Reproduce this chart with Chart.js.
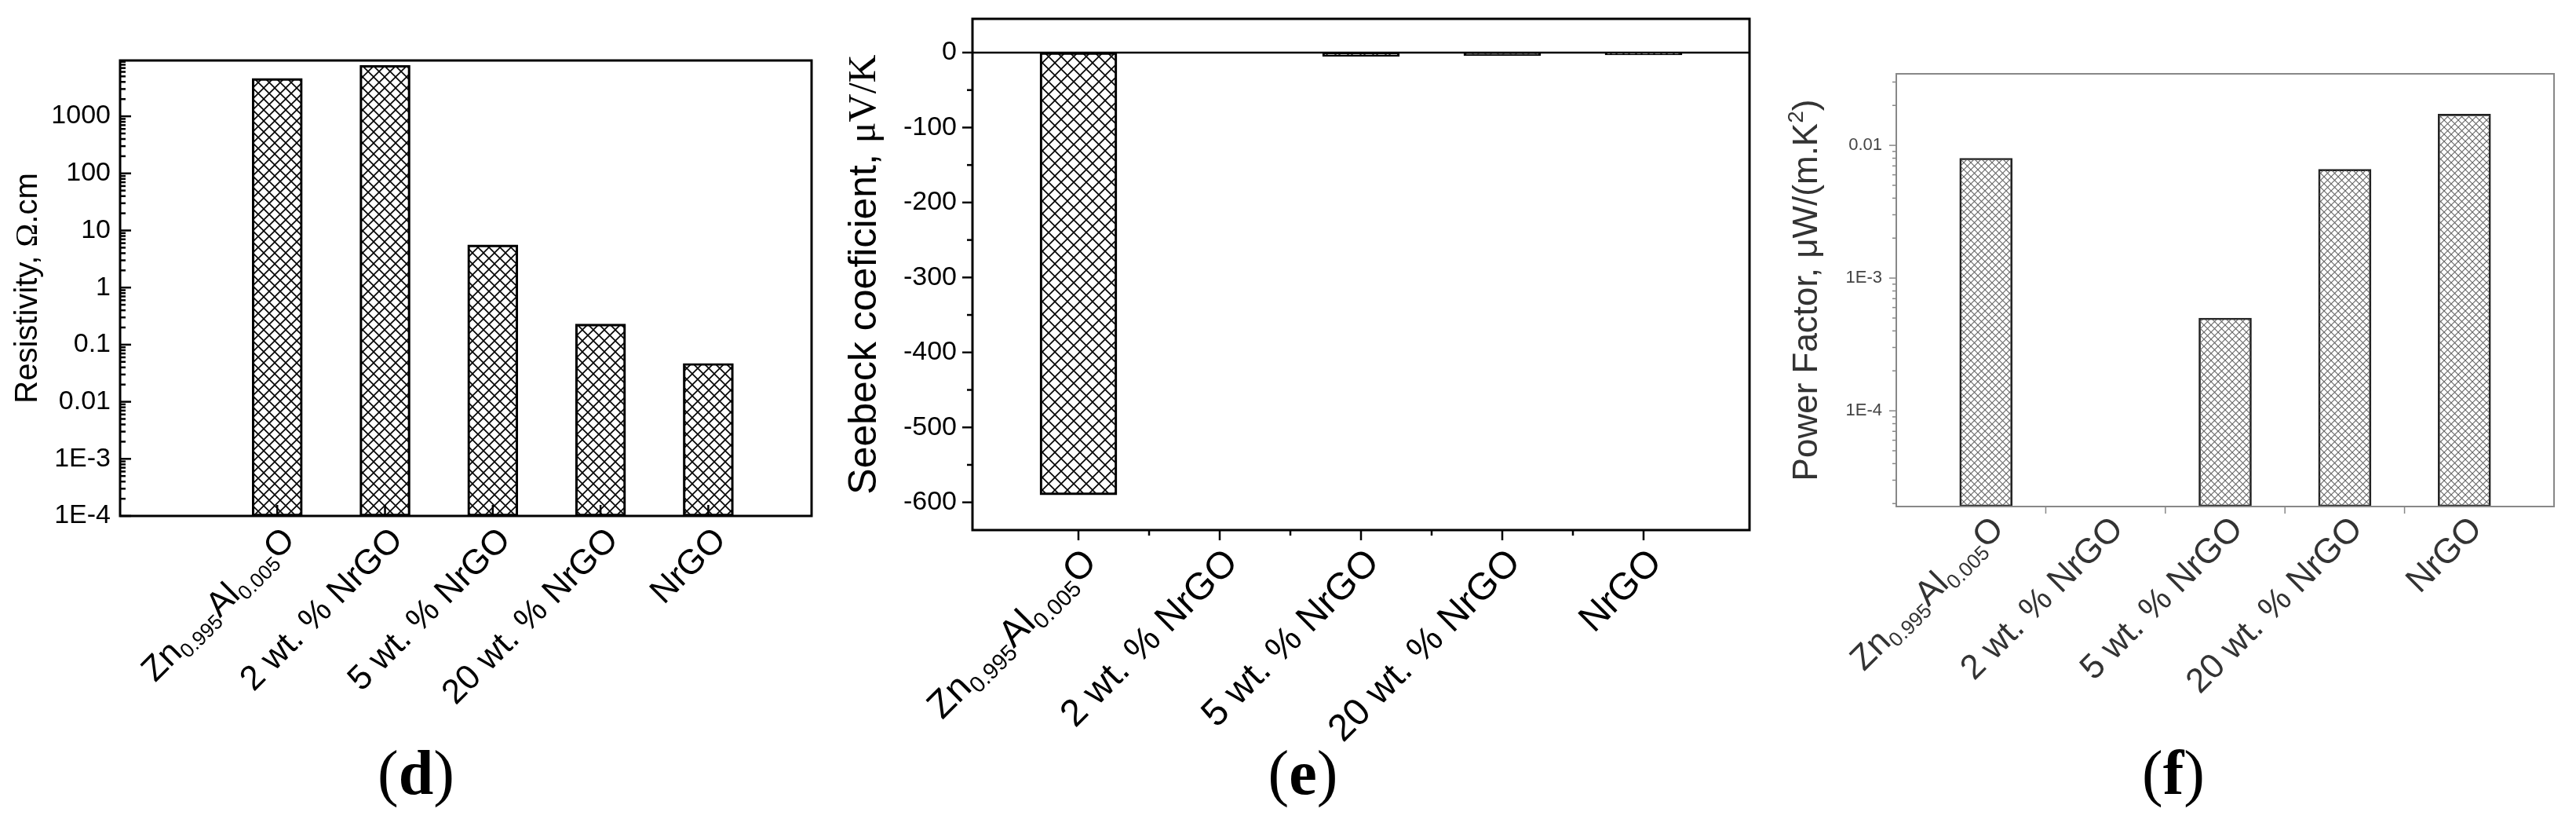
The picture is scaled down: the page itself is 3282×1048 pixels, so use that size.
<!DOCTYPE html>
<html><head><meta charset="utf-8">
<script src="https://cdn.jsdelivr.net/npm/chart.js@4/dist/chart.umd.min.js"></script>
<style>body{margin:0;background:#fff;width:3282px;height:1048px;overflow:hidden;position:relative}canvas{position:absolute;left:0;top:0}</style>
</head><body>
<canvas id="cd" width="3282" height="1048"></canvas>
<canvas id="ce" width="3282" height="1048"></canvas>
<canvas id="cf" width="3282" height="1048"></canvas>
<script>
// ---- data ----
const categories = ['Zn_0.995_Al_0.005_O', '2 wt. % NrGO', '5 wt. % NrGO', '20 wt. % NrGO', 'NrGO'];
const resistivity = [4600, 7800, 5.6, 0.23, 0.047];
const seebeck = [-590, null, -5, -4, -3];
const powerFactor = [0.0080, null, 0.00050, 0.0066, 0.0172];
const resistTicks = [1e-4, 1e-3, 0.01, 0.1, 1, 10, 100, 1000];
const resistTickLabels = ['1E-4', '1E-3', '0.01', '0.1', '1', '10', '100', '1000'];
const seebeckTicks = [-600, -500, -400, -300, -200, -100, 0];
const seebeckTickLabels = ['-600', '-500', '-400', '-300', '-200', '-100', '0'];
const pfTicks = [1e-4, 1e-3, 0.01];
const pfTickLabels = ['1E-4', '1E-3', '0.01'];

const SANS = "'Liberation Sans', Arial, sans-serif";
const SERIF = "'Liberation Serif', 'Times New Roman', serif";

function hatch(sp, color, lw) {
  const c = document.createElement('canvas'); c.width = sp; c.height = sp;
  const g = c.getContext('2d'); g.strokeStyle = color; g.lineWidth = lw;
  g.beginPath();
  g.moveTo(-1, -1); g.lineTo(sp + 1, sp + 1);
  g.moveTo(sp + 1, -1); g.lineTo(-1, sp + 1);
  g.stroke();
  return g.createPattern(c, 'repeat');
}
const pts = arr => arr.map((v, i) => ({x: i, y: v}));

function richLabel(ctx, text, x, y, size, color) {
  const parts = text.split('_');
  const segs = parts.map((p, i) => ({t: p, sub: i % 2 === 1}));
  let total = 0;
  segs.forEach(s => { ctx.font = Math.round(s.sub ? size * 0.6 : size) + 'px ' + SANS; s.w = ctx.measureText(s.t).width; total += s.w; });
  ctx.save(); ctx.translate(x, y); ctx.rotate(-Math.PI / 4);
  ctx.fillStyle = color; ctx.textAlign = 'left'; ctx.textBaseline = 'middle';
  let cx = -total;
  segs.forEach(s => { ctx.font = Math.round(s.sub ? size * 0.6 : size) + 'px ' + SANS; ctx.fillText(s.t, cx, s.sub ? size * 0.3 : 0); cx += s.w; });
  ctx.restore();
}

function decor(cfg) {
  return {
    id: 'decor',
    afterDraw(chart) {
      const ctx = chart.ctx, a = chart.chartArea, xs = chart.scales.x, ys = chart.scales.y;
      ctx.save();
      ctx.strokeStyle = cfg.axisColor; ctx.lineWidth = cfg.frameW;
      ctx.strokeRect(a.left, a.top, a.right - a.left, a.bottom - a.top);
      if (cfg.zeroLine) { const y0 = ys.getPixelForValue(0); ctx.lineWidth = 2.5; ctx.beginPath(); ctx.moveTo(a.left, y0); ctx.lineTo(a.right, y0); ctx.stroke(); }
      ctx.lineWidth = cfg.tickW;
      const tick = (x1, y1, x2, y2) => { ctx.beginPath(); ctx.moveTo(x1, y1); ctx.lineTo(x2, y2); ctx.stroke(); };
      const dir = cfg.ticksIn ? 1 : -1;
      cfg.yMajor.forEach(v => { const y = ys.getPixelForValue(v); tick(a.left, y, a.left + dir * cfg.majorLen, y); });
      cfg.yMinor.forEach(v => { const y = ys.getPixelForValue(v); if (y > a.top && y < a.bottom) tick(a.left, y, a.left + dir * cfg.minorLen, y); });
      cfg.xMajor.forEach(v => { const x = xs.getPixelForValue(v); tick(x, a.bottom, x, a.bottom - dir * cfg.majorLen); });
      cfg.xMinor.forEach(v => { const x = xs.getPixelForValue(v); tick(x, a.bottom, x, a.bottom - dir * cfg.minorLen); });
      // y tick labels
      ctx.fillStyle = cfg.tickColor; ctx.font = cfg.tickSize + 'px ' + SANS;
      ctx.textAlign = 'right'; ctx.textBaseline = 'middle';
      cfg.yMajor.forEach((v, i) => { ctx.fillText(cfg.yLabels[i], a.left - cfg.tickGap, ys.getPixelForValue(v)); });
      // x labels
      categories.forEach((c, i) => {
        const x = xs.getPixelForValue(i);
        richLabel(ctx, c, x + cfg.lblDx, a.bottom + cfg.lblDy, cfg.lblSize, cfg.textColor);
      });
      // y title
      ctx.save(); ctx.translate(cfg.titleX, (a.top + a.bottom) / 2); ctx.rotate(-Math.PI / 2);
      ctx.fillStyle = cfg.textColor; ctx.textBaseline = 'middle'; ctx.textAlign = 'left';
      let tw = 0; cfg.title.forEach(s => { ctx.font = s[1]; tw += ctx.measureText(s[0]).width; });
      let tx = -tw / 2;
      cfg.title.forEach(s => { ctx.font = s[1]; ctx.fillText(s[0], tx, s[2] || 0); tx += ctx.measureText(s[0]).width; });
      ctx.restore();
      // panel letter
      ctx.fillStyle = '#000'; ctx.textBaseline = 'middle'; ctx.textAlign = 'left';
      const reg = '80px ' + SERIF, bold = 'bold 80px ' + SERIF;
      ctx.font = reg; const wl = ctx.measureText('(').width, wr = ctx.measureText(')').width;
      ctx.font = bold; const wm = ctx.measureText(cfg.panel).width;
      const sx = cfg.panelX - (wl + wm + wr) / 2;
      ctx.font = reg; ctx.fillText('(', sx, 990);
      ctx.font = bold; ctx.fillText(cfg.panel, sx + wl, 990);
      ctx.font = reg; ctx.fillText(')', sx + wl + wm, 990);
      ctx.restore();
    }
  };
}

function makeChart(id, box, data, ycfg, bar, dcfg) {
  return new Chart(document.getElementById(id), {
    type: 'bar',
    data: { datasets: [{ data: pts(data), backgroundColor: bar.fill, borderColor: bar.border, borderWidth: bar.bw, barThickness: bar.thick, borderSkipped: false }] },
    options: {
      responsive: false, animation: false, devicePixelRatio: 1,
      layout: { padding: { left: box.l, top: box.t, right: 3282 - box.r, bottom: 1048 - box.b } },
      plugins: { legend: { display: false }, tooltip: { enabled: false } },
      scales: {
        x: { type: 'linear', min: box.xmin, max: box.xmax, grid: { display: false }, border: { display: false }, ticks: { display: false }, afterFit: s => { s.height = 0; } },
        y: Object.assign({ grid: { display: false, drawTicks: false }, border: { display: false }, ticks: { display: false }, afterFit: s => { s.width = 0; } }, ycfg)
      }
    },
    plugins: [decor(dcfg)]
  });
}

const logMinor = (lo, hi) => { const r = []; for (let k = lo; k <= hi; k++) for (let m = 2; m <= 9; m++) r.push(m * Math.pow(10, k)); return r; };

// (d)
makeChart('cd', {l: 153, r: 1034, t: 77, b: 657, xmin: -1, xmax: 4.5}, resistivity,
  { type: 'logarithmic', min: 1e-4, max: 9500 },
  { fill: hatch(14, '#000', 1.6), border: '#000', bw: 2.5, thick: 64 },
  { axisColor: '#000', textColor: '#000', tickColor: '#000', tickSize: 34, tickGap: 12, yLabels: resistTickLabels,
    frameW: 3, tickW: 2.5, ticksIn: true, majorLen: 14, minorLen: 7,
    yMajor: resistTicks, yMinor: logMinor(-4, 3), xMajor: [0, 1, 2, 3, 4], xMinor: [],
    lblDx: 16, lblDy: 24, lblSize: 44, titleX: 36,
    title: [['Resistivity, ', '40px ' + SANS], ['Ω', '40px ' + SERIF], ['.cm', '40px ' + SANS]],
    panel: 'd', panelX: 530 });

// (e)
makeChart('ce', {l: 1239, r: 2229, t: 24, b: 675, xmin: -0.5, xmax: 4.5}, seebeck,
  { type: 'linear', min: -637, max: 45 },
  { fill: hatch(16, '#000', 1.6), border: '#000', bw: 2.5, thick: 98 },
  { axisColor: '#000', textColor: '#000', tickColor: '#000', tickSize: 34, tickGap: 20, yLabels: seebeckTickLabels,
    frameW: 3, tickW: 2.5, ticksIn: false, majorLen: 13, minorLen: 7, zeroLine: true,
    yMajor: seebeckTicks, yMinor: [-550, -450, -350, -250, -150, -50], xMajor: [0, 1, 2, 3, 4], xMinor: [0.5, 1.5, 2.5, 3.5],
    lblDx: 16, lblDy: 34, lblSize: 48, titleX: 1102,
    title: [['Seebeck coeficient, ', '50px ' + SANS], ['μV/K', '50px ' + SERIF]],
    panel: 'e', panelX: 1660 });

// (f)
makeChart('cf', {l: 2416, r: 3254, t: 94, b: 645, xmin: -0.5, xmax: 4.5}, powerFactor,
  { type: 'logarithmic', min: 1.9e-5, max: 0.0346 },
  { fill: hatch(9, '#666', 1.1), border: '#222', bw: 2, thick: 67 },
  { axisColor: '#888', textColor: '#333', tickColor: '#444', tickSize: 22, tickGap: 18, yLabels: pfTickLabels,
    frameW: 2, tickW: 1.5, ticksIn: false, majorLen: 9, minorLen: 5,
    yMajor: pfTicks, yMinor: logMinor(-5, -2), xMajor: [0.5, 1.5, 2.5, 3.5], xMinor: [],
    lblDx: 16, lblDy: 22, lblSize: 44, titleX: 2303,
    title: [['Power Factor, μW/(m.K', '44px ' + SANS], ['2', '28px ' + SANS, -14], [')', '44px ' + SANS]],
    panel: 'f', panelX: 2769 });
</script>
</body></html>
